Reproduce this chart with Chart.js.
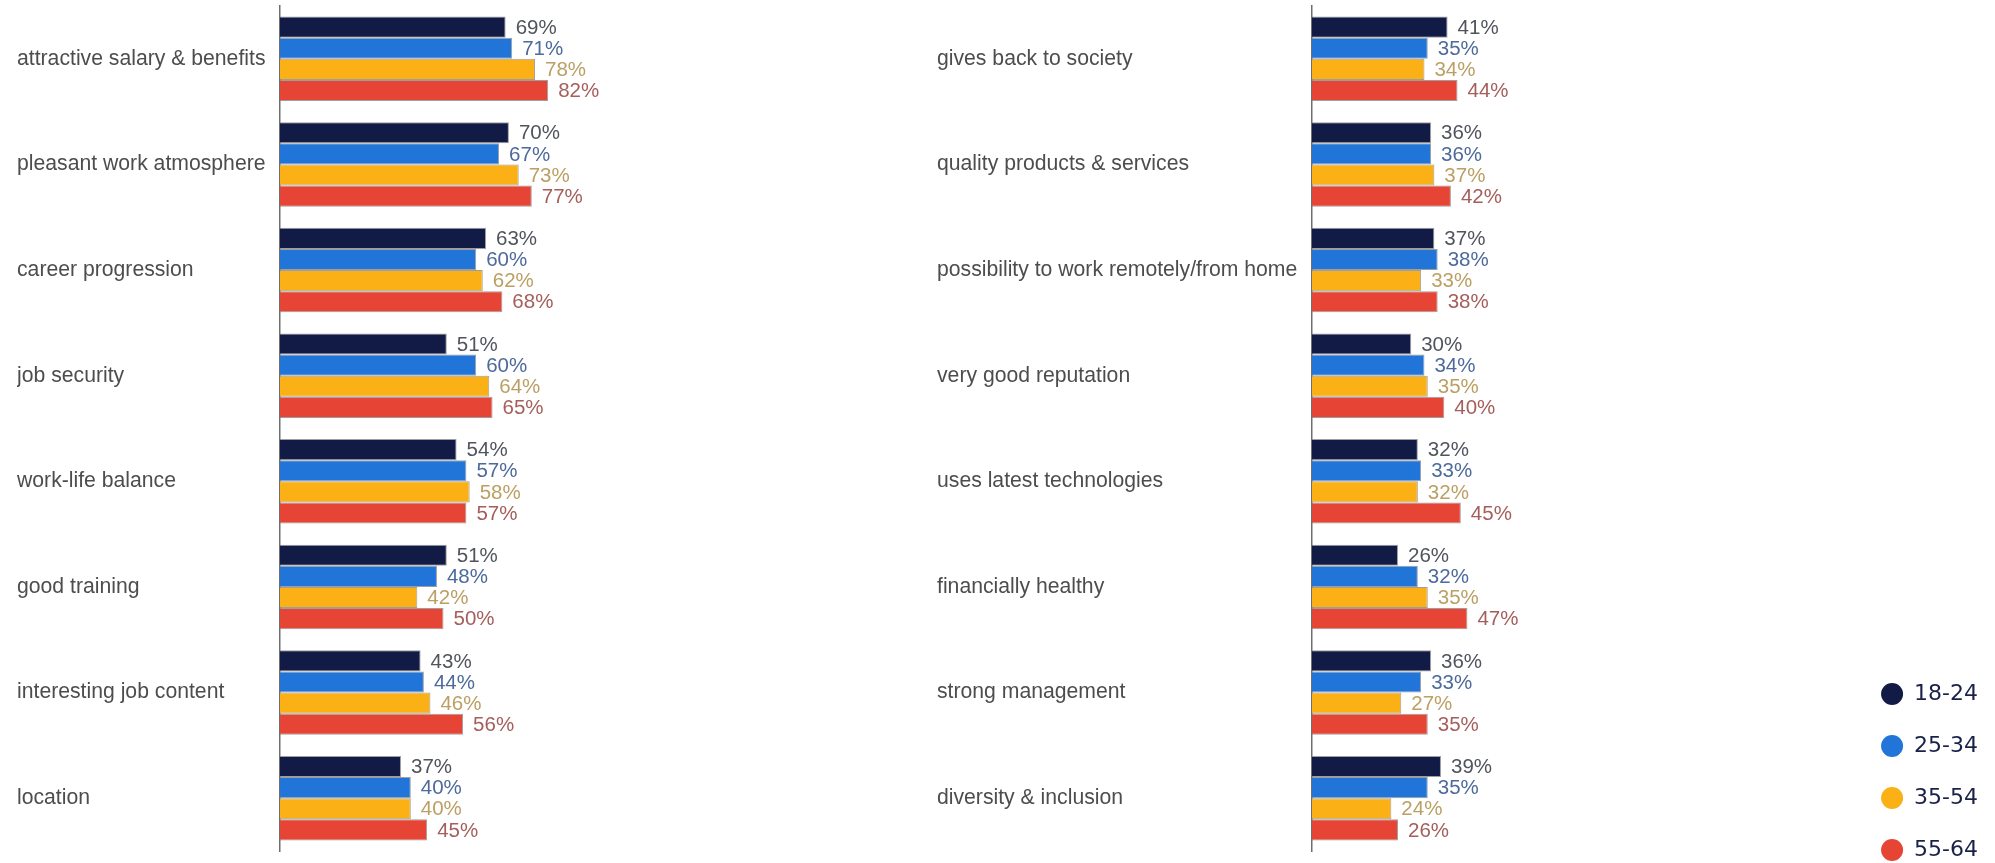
<!DOCTYPE html>
<html>
<head>
<meta charset="utf-8">
<title>Employer attractiveness by age group</title>
<script src="https://cdn.jsdelivr.net/npm/chart.js@4/dist/chart.umd.min.js"></script>
<style>
  html, body { margin: 0; padding: 0; background: #fff; overflow: hidden; }
  #wrap { position: relative; width: 1995px; height: 863px; overflow: hidden; }
  #leftChart { position: absolute; left: 0; top: 0; }
  #rightChart { position: absolute; left: 900px; top: 0; }
</style>
</head>
<body>
<div id="wrap">
  <canvas id="leftChart" width="640" height="863"></canvas>
  <canvas id="rightChart" width="1095" height="891"></canvas>
</div>
<script>
// ---- data ----
const ageGroups = ["18-24", "25-34", "35-54", "55-64"];

const leftLabels = [
  "attractive salary & benefits",
  "pleasant work atmosphere",
  "career progression",
  "job security",
  "work-life balance",
  "good training",
  "interesting job content",
  "location"
];
const left1824 = [69, 70, 63, 51, 54, 51, 43, 37];
const left2534 = [71, 67, 60, 60, 57, 48, 44, 40];
const left3554 = [78, 73, 62, 64, 58, 42, 46, 40];
const left5564 = [82, 77, 68, 65, 57, 50, 56, 45];

const rightLabels = [
  "gives back to society",
  "quality products & services",
  "possibility to work remotely/from home",
  "very good reputation",
  "uses latest technologies",
  "financially healthy",
  "strong management",
  "diversity & inclusion"
];
const right1824 = [41, 36, 37, 30, 32, 26, 36, 39];
const right2534 = [35, 36, 38, 34, 33, 32, 33, 35];
const right3554 = [34, 37, 33, 35, 32, 35, 27, 24];
const right5564 = [44, 42, 38, 40, 45, 47, 35, 26];

// ---- styles ----
const barColors = ["#121b45", "#2174d8", "#fbb016", "#e64535"];
const valueColors = ["#51545c", "#4d6a9b", "#bb9f63", "#a55e5b"];

Chart.defaults.font.family = "'Liberation Sans', Arial, sans-serif";
Chart.defaults.animation = false;

function makeDatasets(series) {
  return series.map((data, i) => ({
    label: ageGroups[i],
    data: data,
    backgroundColor: barColors[i],
    borderColor: "rgba(125,125,125,0.75)",
    borderWidth: 1,
    categoryPercentage: 0.8,
    barPercentage: 1.0
  }));
}

// percent labels after the end of each bar
const valueLabels = {
  id: "valueLabels",
  afterDatasetsDraw(chart) {
    const ctx = chart.ctx;
    ctx.save();
    ctx.font = "20.5px 'Liberation Sans', Arial, sans-serif";
    ctx.textAlign = "left";
    ctx.textBaseline = "middle";
    chart.data.datasets.forEach((ds, di) => {
      const meta = chart.getDatasetMeta(di);
      ctx.fillStyle = valueColors[di];
      meta.data.forEach((bar, i) => {
        ctx.fillText(ds.data[i] + "%", bar.x + 10, bar.y + 1);
      });
    });
    ctx.restore();
  }
};

function yAxis(width) {
  return {
    type: "category",
    grid: { display: false },
    border: { display: true, color: "#6e6e6e", width: 1.5 },
    ticks: {
      autoSkip: false,
      crossAlign: "far",
      color: "#4d4d4d",
      font: { size: 21.2 }
    },
    afterFit(scale) {
      // fixed axis width, and no extra room above/below for the labels
      scale.width = width;
      scale.paddingTop = 0;
      scale.paddingBottom = 0;
    }
  };
}

// left panel
new Chart(document.getElementById("leftChart"), {
  type: "bar",
  data: {
    labels: leftLabels,
    datasets: makeDatasets([left1824, left2534, left3554, left5564])
  },
  options: {
    responsive: false,
    indexAxis: "y",
    layout: { padding: { left: 17, top: 6, bottom: 12, right: 33 } },
    plugins: { legend: { display: false }, tooltip: { enabled: false } },
    scales: {
      x: { display: false, min: 0, max: 100 },
      y: yAxis(263)
    }
  },
  plugins: [valueLabels]
});

// right panel, with the legend
new Chart(document.getElementById("rightChart"), {
  type: "bar",
  data: {
    labels: rightLabels,
    datasets: makeDatasets([right1824, right2534, right3554, right5564])
  },
  options: {
    responsive: false,
    indexAxis: "y",
    layout: { padding: { left: 37, top: 6, bottom: 0, right: 7 } },
    plugins: {
      tooltip: { enabled: false },
      legend: {
        position: "right",
        align: "end",
        labels: {
          usePointStyle: true,
          pointStyle: "circle",
          pointStyleWidth: 22,
          boxHeight: 15.56,
          padding: 30,
          color: "#1a2148",
          font: { family: "'DejaVu Sans', Verdana, sans-serif", size: 22 },
          generateLabels(chart) {
            return Chart.defaults.plugins.legend.labels.generateLabels(chart)
              .map(item => Object.assign(item, { lineWidth: 0, strokeStyle: item.fillStyle }));
          }
        }
      }
    },
    scales: {
      x: {
        min: 0,
        max: 163,
        grid: { display: false },
        border: { display: false },
        ticks: { display: false },
        afterFit(scale) { scale.height = 40; }
      },
      y: yAxis(375)
    }
  },
  plugins: [valueLabels]
});
</script>
</body>
</html>
